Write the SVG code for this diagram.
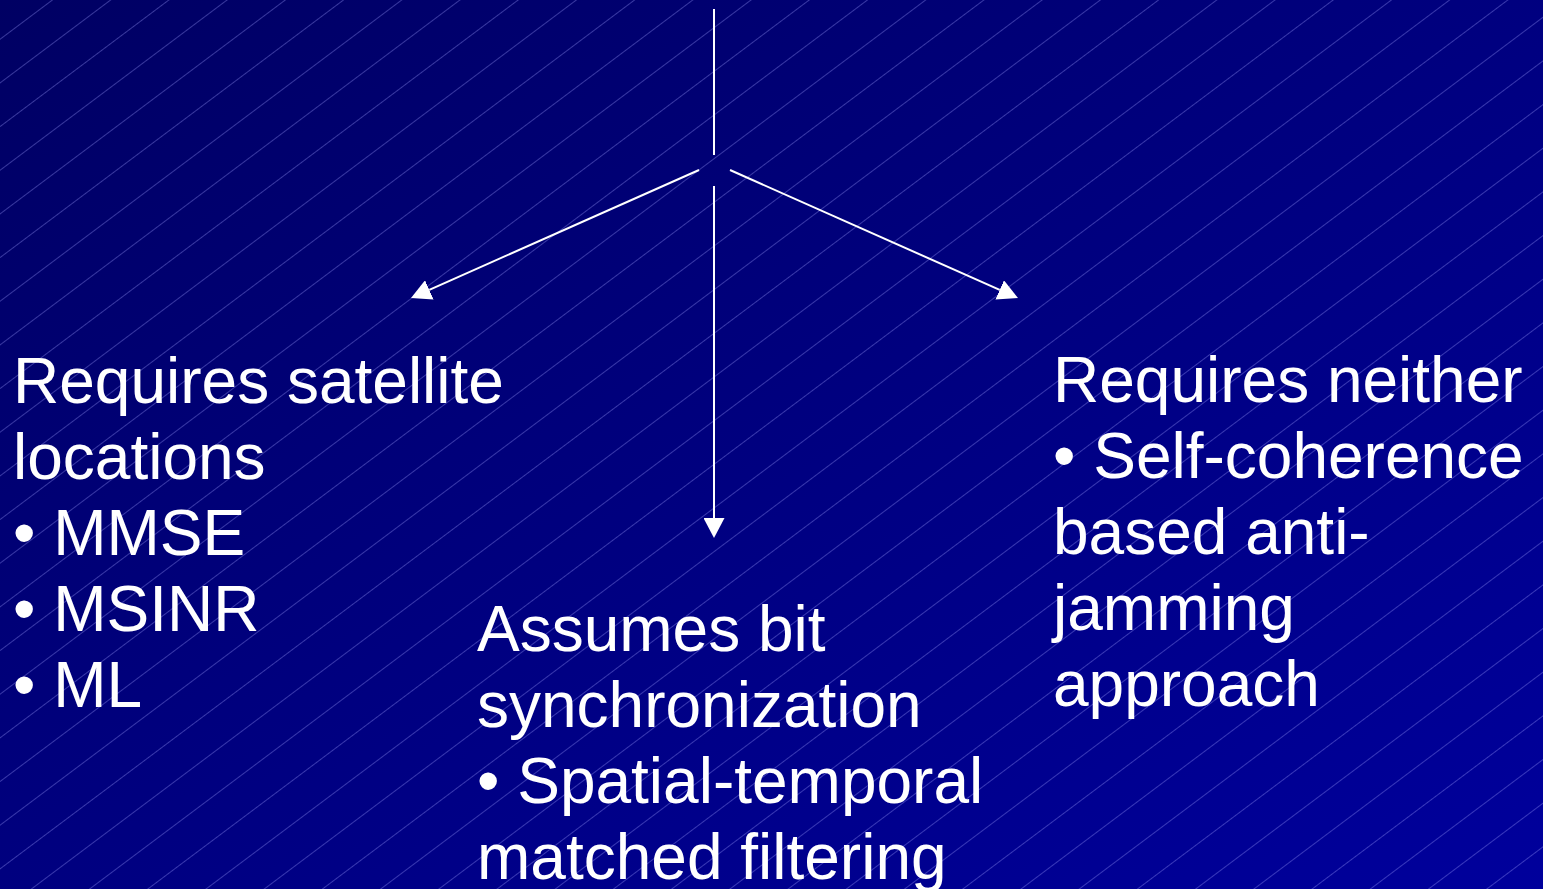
<svg xmlns="http://www.w3.org/2000/svg" width="1543" height="889" viewBox="0 0 1543 889">
  <style>
    .t { font-family: "Liberation Sans", Arial, sans-serif; font-size: 64px; fill: #ffffff; }
    .c { stroke: #ffffff; stroke-width: 2; fill: none; }
  </style>
  <defs>
    <linearGradient id="bg" x1="0" y1="0" x2="1" y2="1">
      <stop offset="0" stop-color="#000063"/>
      <stop offset="1" stop-color="#00009c"/>
    </linearGradient>
    <pattern id="hatch" patternUnits="userSpaceOnUse" width="200" height="34.93" patternTransform="rotate(-36.87)">
      <line x1="-10" y1="31.44" x2="210" y2="31.44" stroke="#a0a0ff" stroke-opacity="0.4" stroke-width="0.9"/>
    </pattern>
    <marker id="ah" viewBox="0 0 20 21" refX="0" refY="10.5" markerWidth="20" markerHeight="21" markerUnits="userSpaceOnUse" orient="auto">
      <path d="M0,0 L20,10.5 L0,21 z" fill="#ffffff"/>
    </marker>
  </defs>
  <rect x="0" y="0" width="1543" height="889" fill="url(#bg)"/>
  <rect x="0" y="0" width="1543" height="889" fill="url(#hatch)"/>

  <g id="connectors">
    <line class="c" x1="714" y1="9" x2="714" y2="155"/>
    <line class="c" x1="699" y1="170" x2="429.3" y2="289.9" marker-end="url(#ah)"/>
    <line class="c" x1="730" y1="170" x2="999.7" y2="289.9" marker-end="url(#ah)"/>
    <line class="c" x1="714" y1="186" x2="714" y2="518" marker-end="url(#ah)"/>
  </g>

  <g id="node-left">
    <text class="t" x="13" y="403">Requires satellite</text>
    <text class="t" x="13" y="479">locations</text>
    <text class="t" x="13" y="555">• MMSE</text>
    <text class="t" x="13" y="631">• MSINR</text>
    <text class="t" x="13" y="707">• ML</text>
  </g>

  <g id="node-middle">
    <text class="t" x="477" y="651">Assumes bit</text>
    <text class="t" x="477" y="727">synchronization</text>
    <text class="t" x="477" y="803">• Spatial-temporal</text>
    <text class="t" x="477" y="879">matched filtering</text>
  </g>

  <g id="node-right">
    <text class="t" x="1053" y="402">Requires neither</text>
    <text class="t" x="1053" y="478">• Self-coherence</text>
    <text class="t" x="1053" y="554">based anti-</text>
    <text class="t" x="1053" y="630">jamming</text>
    <text class="t" x="1053" y="706">approach</text>
  </g>
</svg>
